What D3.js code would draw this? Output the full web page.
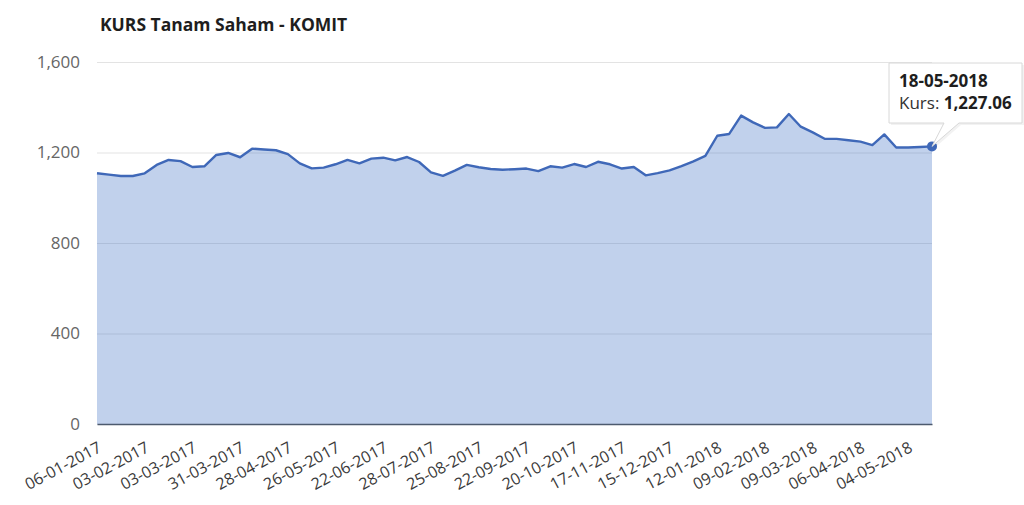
<!DOCTYPE html>
<html>
<head>
<meta charset="utf-8">
<script src="https://cdn.jsdelivr.net/npm/d3@7"></script>
<style>
  html, body { margin: 0; padding: 0; background: #fff; }
  svg { display: block; font-family: "Open Sans", sans-serif; }
</style>
</head>
<body>
<svg id="chart" width="1024" height="505"></svg>
<script>
const chartTitle = "KURS Tanam Saham - KOMIT";
const seriesName = "Kurs";
const dates = [
  "06-01-2017","13-01-2017","20-01-2017","27-01-2017","03-02-2017","10-02-2017","17-02-2017","24-02-2017",
  "03-03-2017","10-03-2017","17-03-2017","24-03-2017","31-03-2017","07-04-2017","13-04-2017","21-04-2017",
  "28-04-2017","05-05-2017","12-05-2017","19-05-2017","26-05-2017","02-06-2017","09-06-2017","16-06-2017",
  "22-06-2017","07-07-2017","14-07-2017","21-07-2017","28-07-2017","04-08-2017","11-08-2017","18-08-2017",
  "25-08-2017","31-08-2017","08-09-2017","15-09-2017","22-09-2017","29-09-2017","06-10-2017","13-10-2017",
  "20-10-2017","27-10-2017","03-11-2017","10-11-2017","17-11-2017","24-11-2017","30-11-2017","08-12-2017",
  "15-12-2017","22-12-2017","29-12-2017","05-01-2018","12-01-2018","19-01-2018","26-01-2018","02-02-2018",
  "09-02-2018","15-02-2018","23-02-2018","02-03-2018","09-03-2018","16-03-2018","23-03-2018","29-03-2018",
  "06-04-2018","13-04-2018","20-04-2018","27-04-2018","04-05-2018","11-05-2018","18-05-2018"
];
const kurs = [
  1108,1102,1096,1096,1108,1145,1167,1162,
  1136,1139,1189,1198,1179,1217,1213,1210,
  1193,1152,1130,1133,1148,1167,1152,1173,
  1177,1165,1180,1158,1112,1097,1120,1145,
  1135,1127,1124,1126,1129,1118,1139,1133,
  1149,1136,1159,1148,1129,1136,1099,1109,
  1121,1140,1161,1185,1274,1282,1363,1333,
  1309,1311,1370,1314,1289,1261,1260,1254,
  1248,1233,1280,1222,1222,1224,1227.06
];
const xTickLabels = [
  "06-01-2017","03-02-2017","03-03-2017","31-03-2017","28-04-2017","26-05-2017","22-06-2017","28-07-2017",
  "25-08-2017","22-09-2017","20-10-2017","17-11-2017","15-12-2017","12-01-2018","09-02-2018","09-03-2018",
  "06-04-2018","04-05-2018"
];
const yTicks = [0, 400, 800, 1200, 1600];
const highlightIndex = dates.length - 1;

const data = dates.map((d, i) => ({ date: d, value: kurs[i] }));

const svg = d3.select("#chart");
const plot = { left: 97, right: 932, top: 62, bottom: 424 };

const x = d3.scalePoint().domain(dates).range([plot.left, plot.right]);
const y = d3.scaleLinear().domain([0, 1600]).range([plot.bottom, plot.top]);

// title
svg.append("text")
  .attr("x", 100).attr("y", 31)
  .attr("font-size", 17.5).attr("font-weight", 700).attr("fill", "#1e1e1e")
  .text(chartTitle);

// grid + y axis
const yAxis = d3.axisLeft(y).tickValues(yTicks).tickSize(-(plot.right - plot.left)).tickPadding(17)
  .tickFormat(d3.format(","));
const gy = svg.append("g").attr("transform", `translate(${plot.left},0)`).call(yAxis);
gy.select(".domain").remove();
gy.selectAll(".tick line").attr("stroke", "#e3e3e3").attr("stroke-width", 1);
gy.selectAll(".tick text").attr("fill", "#666").attr("font-size", 17).attr("font-family", "Open Sans, sans-serif");

// area + line
const area = d3.area().x(d => x(d.date)).y0(y(0)).y1(d => y(d.value));
const line = d3.line().x(d => x(d.date)).y(d => y(d.value));
svg.append("path").datum(data).attr("d", area).attr("fill", "#4472c4").attr("fill-opacity", 0.33);
svg.append("path").datum(data).attr("d", line).attr("fill", "none")
  .attr("stroke", "#3f68b8").attr("stroke-width", 2.4).attr("stroke-linejoin", "round");

// x axis
const xAxis = d3.axisBottom(x).tickValues(xTickLabels).tickSize(0).tickPadding(0);
const gx = svg.append("g").attr("transform", `translate(0,${plot.bottom})`).call(xAxis);
gx.select(".domain").attr("stroke", "#4d5a6e").attr("stroke-width", 1.6);
gx.selectAll(".tick text")
  .attr("fill", "#3a3a3a").attr("font-size", 16).attr("font-family", "Open Sans, sans-serif")
  .attr("text-anchor", "end").attr("dy", 0).attr("y", 0)
  .attr("transform", "translate(5,27) rotate(-28)");

// highlighted point
const hp = data[highlightIndex];
const px = x(hp.date), py = y(hp.value);
svg.append("circle").attr("cx", px).attr("cy", py).attr("r", 5).attr("fill", "#3f68b8");

// tooltip
const bx = 889, by = 63, bw = 133, bh = 60;
const tipPath = `M${bx},${by} H${bx + bw} V${by + bh} H${px + 27} L${px},${py} L${px + 12},${by + bh} H${bx} Z`;
const tip = svg.append("g");
tip.append("path").attr("d", tipPath)
  .attr("fill", "#000").attr("fill-opacity", 0.05).attr("transform", "translate(2,2)");
tip.append("path").attr("d", tipPath)
  .attr("fill", "#fff").attr("stroke", "#d8d8d8").attr("stroke-width", 1);
tip.append("text").attr("x", bx + 10).attr("y", by + 24)
  .attr("font-size", 17).attr("font-weight", 700).attr("fill", "#1e1e1e").text(hp.date);
const t2 = tip.append("text").attr("x", bx + 10).attr("y", by + 46).attr("font-size", 17).attr("fill", "#333");
t2.append("tspan").text(seriesName + ": ");
t2.append("tspan").attr("font-weight", 700).attr("fill", "#1e1e1e").text(d3.format(",.2f")(hp.value));
</script>
</body>
</html>
